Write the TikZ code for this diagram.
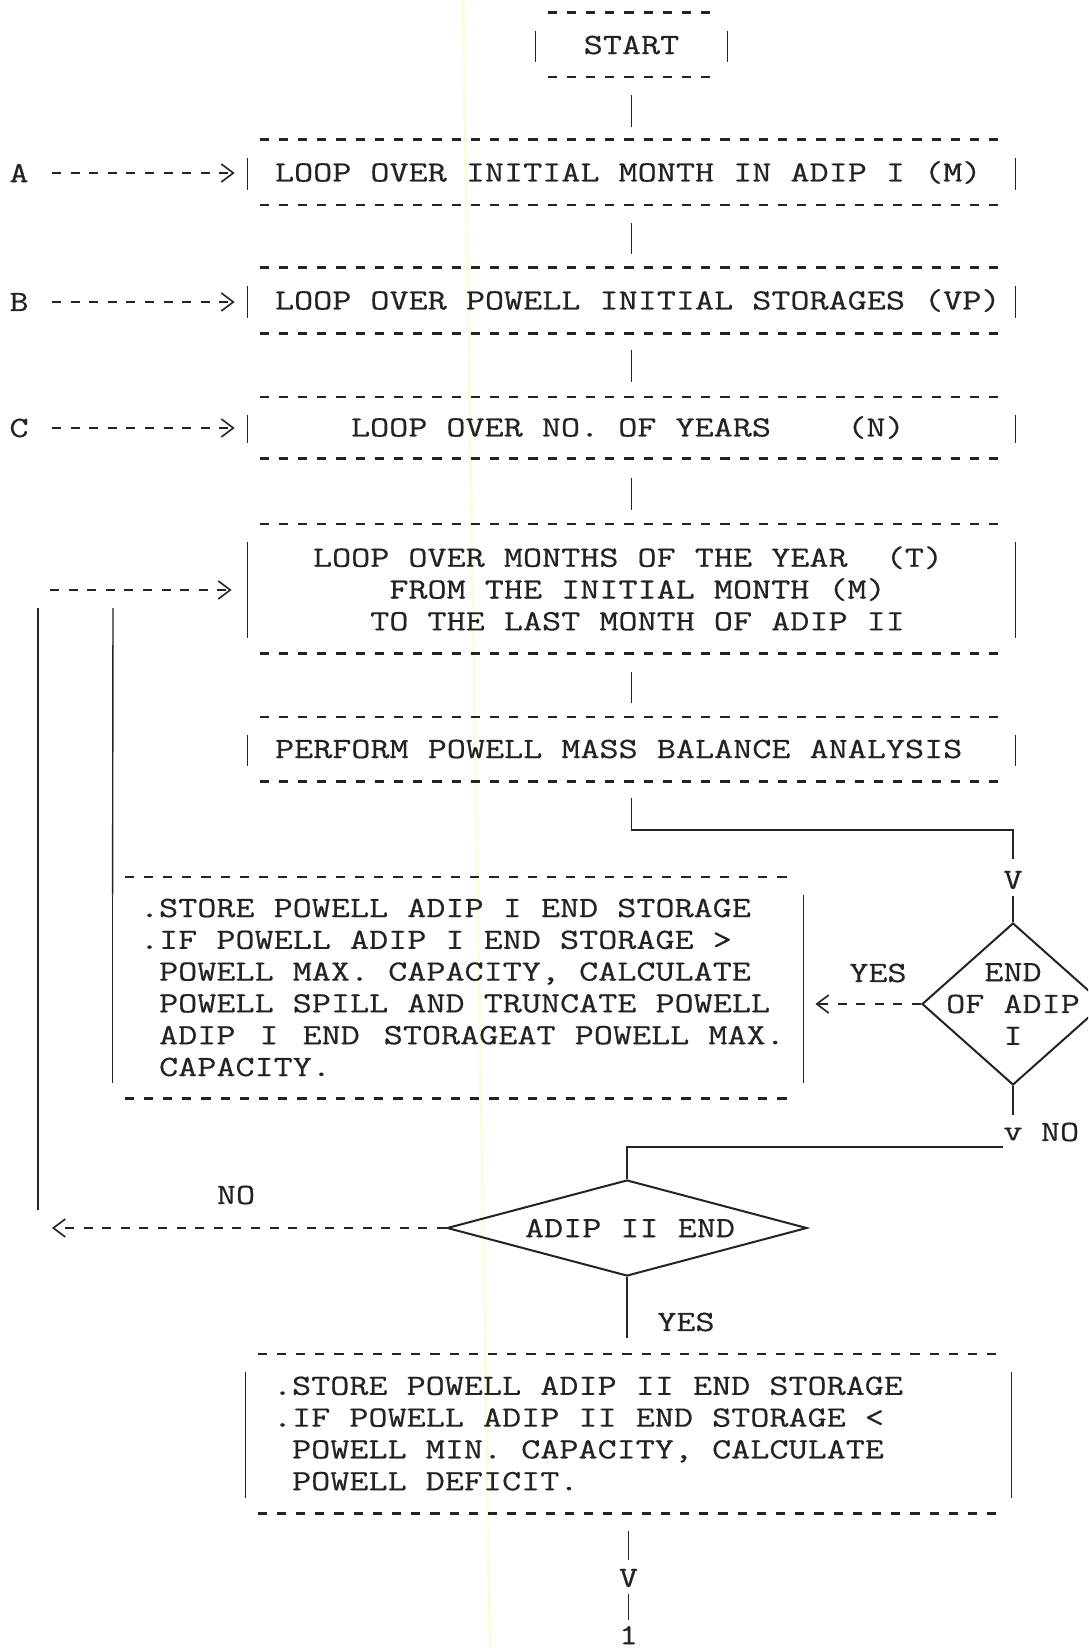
\documentclass[tikz,border=0pt]{standalone}
\usepackage{fontspec}
\newfontfamily\typew{Latin Modern Mono}[FakeStretch=1.261,FakeBold=0.5]
\usetikzlibrary{shapes.geometric,arrows.meta}
\definecolor{inkc}{RGB}{35,35,35}
\definecolor{scanline}{RGB}{255,252,218}
\newcommand\tdeco[1]{%
  \draw[dashrule] ([xshift=6pt]#1.north west) -- ([xshift=-6pt]#1.north east);
  \draw[dashrule] ([xshift=6pt]#1.south west) -- ([xshift=-6pt]#1.south east);
  \draw[bar] ([yshift=-9pt]#1.north west) -- ([yshift=7.5pt]#1.south west);
  \draw[bar] ([yshift=-9pt]#1.north east) -- ([yshift=7.5pt]#1.south east);
}
\tikzset{
  tb/.style={rectangle, draw=none, inner sep=0pt},
  tt/.style={inner sep=0pt, text=inkc, font=\typew\fontsize{14.7pt}{15.9pt}\selectfont},
  dashrule/.style={draw=inkc, line width=1.1pt, dash pattern=on 4.6pt off 5pt},
  bar/.style={draw=inkc, line width=0.7pt},
  conn/.style={draw=inkc, line width=0.75pt},
  typedarrow/.style={draw=inkc, line width=1.1pt, dash pattern=on 4.5pt off 4.8pt,
    -{Straight Barb[length=6pt,width=9pt,line width=0.8pt]}},
  dia/.style={diamond, draw=inkc, line width=1pt, inner sep=0pt},
}
\begin{document}
\begin{tikzpicture}[x=0.5pt,y=-0.5pt]
\useasboundingbox (0,0) rectangle (1088,1648);
\clip (0,0) rectangle (1088,1648);
\fill[white] (0,0) rectangle (1088,1648);
\draw[scanline, line width=1.2pt] (463,0) -- (490,1648);

% boxes
\node[tb, minimum width=95.5pt, minimum height=32pt] (bS) at (631.5,45) {};
\node[tt] (tS) at (bS) {START};
\node[tb, minimum width=383.5pt, minimum height=32.5pt] (bA) at (631.5,172.5) {};
\node[tt, anchor=west] (tA) at ([xshift=13.5pt]bA.west) {LOOP OVER INITIAL MONTH IN ADIP I (M)};
\node[tb, minimum width=383.5pt, minimum height=32.5pt] (bB) at (631.5,300.5) {};
\node[tt, anchor=west] (tB) at ([xshift=13.5pt]bB.west) {LOOP OVER POWELL INITIAL STORAGES (VP)};
\node[tb, minimum width=383.5pt, minimum height=30.5pt] (bC) at (631.5,427.5) {};
\node[tt, anchor=west] (tC) at ([xshift=51.5pt]bC.west) {LOOP OVER NO. OF YEARS~~~~(N)};
\node[tb, minimum width=383.5pt, minimum height=64.5pt] (bD) at (631.5,588.5) {};
\node[tt, anchor=west, align=left] (tD) at ([xshift=32.5pt]bD.west)
  {LOOP OVER MONTHS OF THE YEAR~~(T)\\~~~~FROM THE INITIAL MONTH (M)\\~~~TO THE LAST MONTH OF ADIP II};
\node[tb, minimum width=383.5pt, minimum height=32pt] (bE) at (631.5,749) {};
\node[tt, anchor=west] (tE) at ([xshift=13.5pt]bE.west) {PERFORM POWELL MASS BALANCE ANALYSIS};
\node[tb, minimum width=345pt, minimum height=110.5pt] (bF) at (458,987.5) {};
\node[tt, anchor=west, align=left] (tF) at ([xshift=13.5pt]bF.west)
  {.STORE POWELL ADIP I END STORAGE\\.IF POWELL ADIP I END STORAGE >\\~POWELL MAX. CAPACITY, CALCULATE\\~POWELL SPILL AND TRUNCATE POWELL\\~ADIP\,~I\,~END\,~STORAGEAT~POWELL~MAX.\\~CAPACITY.};
\node[tb, minimum width=382.5pt, minimum height=79.5pt] (bG) at (628.5,1433.5) {};
\node[tt, anchor=west, align=left] (tG) at ([xshift=13.5pt]bG.west)
  {.STORE POWELL ADIP II END STORAGE\\.IF POWELL ADIP II END STORAGE <\\~POWELL MIN. CAPACITY, CALCULATE\\~POWELL DEFICIT.};

\tdeco{bS}\tdeco{bA}\tdeco{bB}\tdeco{bC}\tdeco{bD}\tdeco{bE}\tdeco{bF}\tdeco{bG}

% loop labels
\node[tt] (lA) at (19,173) {A};
\node[tt] (lB) at (19,302) {B};
\node[tt] (lC) at (19,428) {C};

% decisions
\node[dia, minimum width=91pt, minimum height=81pt] (d1) at (1013,1004) {};
\node[tt, align=center] (td1) at (d1) {END\\OF ADIP\\I};
\node[dia, minimum width=180pt, minimum height=48pt] (d2) at (627,1228) {};
\node[tt] (td2) at ([xshift=1.5pt]d2.center) {ADIP II END};

% small labels
\node[tt] (v1) at (1013,880) {V};
\node[tt] (yes1) at (878,973) {YES};
\node[tt] (v2) at (1013,1134) {v};
\node[tt] (no1) at (1060,1132) {NO};
\node[tt] (no2) at (236,1195) {NO};
\node[tt] (yes2) at (686,1322) {YES};
\node[tt] (v3) at (628.5,1578) {V};
\node[tt] (one) at (628.5,1635) {1};

% junction coordinates
\coordinate (j1) at (1013,830);
\coordinate (j2) at (1003,1147);
\coordinate (as) at (50,590);
\coordinate (ot) at (38,608);
\coordinate (ob) at (38,1210);
\coordinate (it) at (113,608);
\coordinate (lo) at (52,1228);

% main flow
\draw[conn, shorten <=9pt, shorten >=6.5pt] (bS.south) -- (bA.north);
\draw[conn, shorten <=9pt, shorten >=7pt] (bA.south) -- (bB.north);
\draw[conn, shorten <=8.5pt, shorten >=7.5pt] (bB.south) -- (bC.north);
\draw[conn, shorten <=10pt, shorten >=7pt] (bC.south) -- (bD.north);
\draw[conn, shorten <=9.5pt, shorten >=7pt] (bD.south) -- (bE.north);
\draw[conn, shorten <=8.5pt, shorten >=5.5pt] (bE.south) |- (j1) -- (v1.north);
\draw[conn, shorten <=3pt] (v1.south) -- (d1.north);
\draw[conn, shorten >=6pt] (d1.south) -- (v2.north);
\draw[conn] (j2) -| (d2.north);
\draw[conn, shorten >=8pt] (d2.south) -- (d2.south |- bG.north);
\draw[conn, shorten <=9pt, shorten >=4.5pt] (bG.south) -- (v3.north);
\draw[conn, shorten <=3pt, shorten >=2.5pt] (v3.south) -- (one.north);

% branches
\draw[typedarrow, shorten >=6pt] (d1.west) -- (d1.west -| bF.east);
\draw[typedarrow] (d2.west) -- (lo);
\draw[bar] (ob) -- (ot);
\draw[bar] (it) -- ([yshift=-9pt]bF.north west);
\draw[typedarrow, shorten >=8pt] (as) -- (as -| bD.west);

% entry arrows
\draw[typedarrow, shorten <=11.5pt, shorten >=6.5pt] (lA) -- (lA -| bA.west);
\draw[typedarrow, shorten <=11.5pt, shorten >=6.5pt] (lB) -- (lB -| bB.west);
\draw[typedarrow, shorten <=11.5pt, shorten >=6.5pt] (lC) -- (lC -| bC.west);
\end{tikzpicture}
\end{document}
